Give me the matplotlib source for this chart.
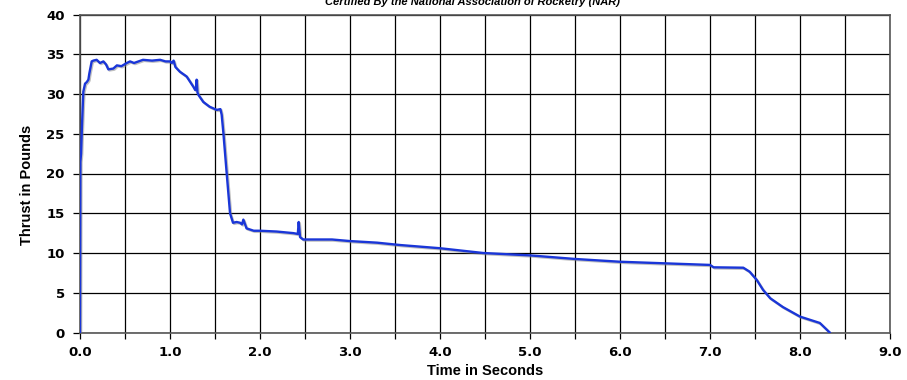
import numpy as np
import matplotlib
matplotlib.use("Agg")
import matplotlib.pyplot as plt
import matplotlib.patheffects as pe
from matplotlib.ticker import MultipleLocator

# thrust curve
time_s = [0.0, 0.004, 0.012, 0.019, 0.030, 0.037, 0.056, 0.075, 0.093, 0.104,
          0.13, 0.148, 0.185, 0.222, 0.26, 0.29, 0.315, 0.37, 0.41, 0.46,
          0.52, 0.556, 0.6, 0.70, 0.8, 0.89, 0.95, 1.0, 1.02, 1.04,
          1.06, 1.11, 1.185, 1.26, 1.28, 1.29, 1.296, 1.305, 1.315, 1.37,
          1.44, 1.52, 1.56, 1.574, 1.593, 1.63, 1.667, 1.70, 1.74, 1.78,
          1.80, 1.815, 1.85, 1.93, 2.0, 2.185, 2.37, 2.42, 2.43, 2.445,
          2.48, 2.8, 3.0, 3.3, 3.56, 4.0, 4.48, 5.0, 5.5, 6.0, 6.5, 7.0,
          7.04, 7.37, 7.44, 7.52, 7.59, 7.67, 7.81, 8.0, 8.11, 8.22,
          8.33]
thrust_lb = [0.0, 21.5, 22.5, 25.0, 28.4, 30.3, 31.3, 31.5, 31.8, 32.6,
             34.1, 34.2, 34.3, 33.9, 34.1, 33.7, 33.1, 33.2, 33.6, 33.5,
             33.9, 34.1, 33.9, 34.3, 34.2, 34.3, 34.1, 34.1, 33.9, 34.2,
             33.4, 32.8, 32.2, 30.9, 30.5, 30.7, 31.8, 30.2, 29.9, 29.0,
             28.4, 28.0, 28.1, 27.4, 25.1, 20.0, 15.0, 13.8, 13.9, 13.8,
             13.6, 14.2, 13.1, 12.8, 12.8, 12.7, 12.5, 12.4, 13.9, 12.0,
             11.7, 11.7, 11.5, 11.3, 11.0, 10.6, 10.0, 9.7, 9.25, 8.9, 8.7, 8.5,
             8.2, 8.15, 7.65, 6.6, 5.35, 4.3, 3.2, 2.0, 1.6, 1.2,
             0.0]

x_ticks = np.arange(0, 9.1, 1.0)
y_ticks = np.arange(0, 41, 5)
title = "Certified By the National Association of Rocketry (NAR)"

fig = plt.figure(figsize=(9.07, 3.8), dpi=100)
ax = fig.add_axes([80 / 907, 1 - 332.5 / 380, 810 / 907, 318 / 380])

ax.plot(time_s, thrust_lb, color="#1a36d8", lw=1.7, solid_joinstyle="round",
        path_effects=[pe.SimpleLineShadow(offset=(0.8, -0.8), shadow_color="gray", alpha=0.5),
                      pe.Normal()], zorder=3)

ax.set_xlim(0, 9)
ax.set_ylim(0, 40)
ax.xaxis.set_minor_locator(MultipleLocator(0.5))
ax.set_xticks(x_ticks)
ax.set_xticklabels([f"{v:.1f}" for v in x_ticks], fontsize=9.5,
                   fontweight="bold", family="DejaVu Sans")
ax.set_yticks(y_ticks)
ax.set_yticklabels([str(v) for v in y_ticks], fontsize=9.5, fontweight="bold",
                   family="DejaVu Sans")

ax.grid(True, which="both", color="black", lw=0.9)
ax.tick_params(axis="x", which="both", direction="out", length=4, width=0.9, pad=6)
ax.tick_params(axis="y", direction="out", length=5, width=0.9, pad=6)
for s in ax.spines.values():
    s.set_color("#555555")
    s.set_linewidth(1.2)

ax.set_xlabel("Time in Seconds", fontsize=10.5, fontweight="bold", family="Liberation Sans",
              labelpad=3)
ax.set_ylabel("Thrust in Pounds", fontsize=10.5, fontweight="bold", family="Liberation Sans")
ax.yaxis.set_label_coords(-46 / 810, (332.5 - 185) / 318)

fig.text(473 / 907, 1 - 5 / 380, title, ha="center", va="baseline", fontsize=8,
         fontweight="bold", style="italic", family="Liberation Sans")

fig.savefig("out.png", dpi=100)
